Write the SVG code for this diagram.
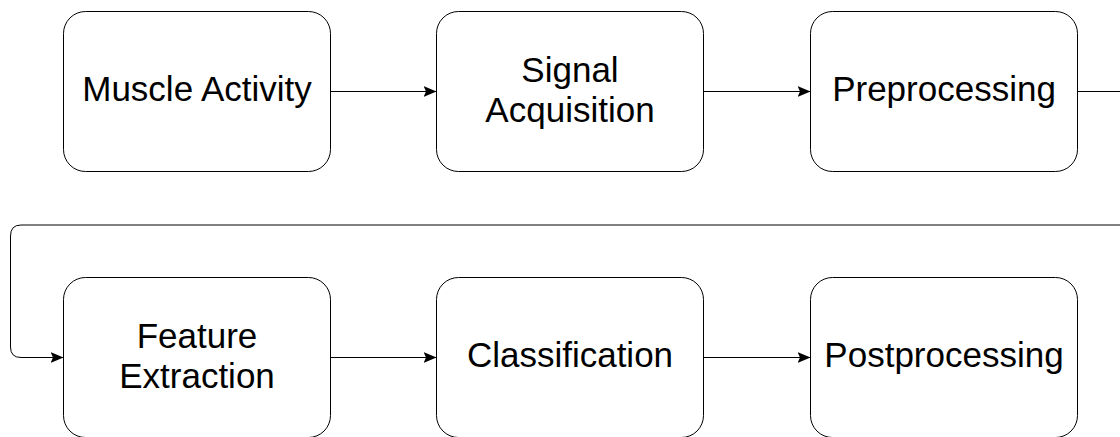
<svg xmlns="http://www.w3.org/2000/svg" width="1120" height="437" viewBox="0 0 1120 437">
  <style>
    .box { fill: #ffffff; stroke: #000000; stroke-width: 1; }
    .label { font-family: "Liberation Sans", Arial, Helvetica, sans-serif; font-size: 35px; fill: #000000; text-anchor: middle; }
    .edge { fill: none; stroke: #000000; stroke-width: 1; }
  </style>
  <defs>
    <marker id="arrow" markerUnits="userSpaceOnUse" markerWidth="13" markerHeight="11" viewBox="0 0 13 11" refX="13" refY="5.5" orient="auto">
      <path d="M0,0 L13,5.5 L0,11 L2.5,5.5 z" fill="#000000"/>
    </marker>
  </defs>
  <rect width="1120" height="437" fill="#ffffff"/>

  <!-- connectors -->
  <g id="connectors">
    <path class="edge" d="M330.5,91.5 H436.5" marker-end="url(#arrow)"/>
    <path class="edge" d="M703.5,91.5 H810.5" marker-end="url(#arrow)"/>
    <path class="edge" d="M1077.5,91.5 H1130 V225 H21 Q10.5,225 10.5,236 V347 Q10.5,357.5 21,357.5 H63.5" marker-end="url(#arrow)"/>
    <path class="edge" d="M330.5,357.5 H436.5" marker-end="url(#arrow)"/>
    <path class="edge" d="M703.5,357.5 H810.5" marker-end="url(#arrow)"/>
  </g>

  <!-- row 1 -->
  <g id="muscle-activity">
    <rect class="box" x="63.5" y="11.5" width="267" height="160" rx="22" ry="22"/>
    <text class="label" x="197" y="100.5">Muscle Activity</text>
  </g>
  <g id="signal-acquisition">
    <rect class="box" x="436.5" y="11.5" width="267" height="160" rx="22" ry="22"/>
    <text class="label" x="570" y="81.5">Signal</text>
    <text class="label" x="570" y="121.5">Acquisition</text>
  </g>
  <g id="preprocessing">
    <rect class="box" x="810.5" y="11.5" width="267" height="160" rx="22" ry="22"/>
    <text class="label" x="944" y="100.5">Preprocessing</text>
  </g>

  <!-- row 2 -->
  <g id="feature-extraction">
    <rect class="box" x="63.5" y="277.5" width="267" height="160" rx="22" ry="22"/>
    <text class="label" x="197" y="347.5">Feature</text>
    <text class="label" x="197" y="387.5">Extraction</text>
  </g>
  <g id="classification">
    <rect class="box" x="436.5" y="277.5" width="267" height="160" rx="22" ry="22"/>
    <text class="label" x="570" y="367">Classification</text>
  </g>
  <g id="postprocessing">
    <rect class="box" x="810.5" y="277.5" width="267" height="160" rx="22" ry="22"/>
    <text class="label" x="944" y="367">Postprocessing</text>
  </g>
</svg>
